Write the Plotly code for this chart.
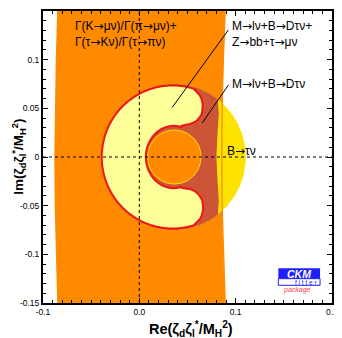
import numpy as np
import plotly.graph_objects as go

# ---------------- data ----------------
# Γ(K→μν)/Γ(π→μν)+Γ(τ→Kν)/Γ(τ→πν) band (orange)
band_y = [-0.16, -0.10, -0.05, 0.0, 0.05, 0.10, 0.16]
band_left_x = [-0.0850, -0.0868, -0.0879, -0.0883, -0.0879, -0.0868, -0.0850]
band_right_x = [0.0895, 0.0872, 0.0859, 0.0855, 0.0859, 0.0872, 0.0895]

# B→τν annulus (yellow)
btau_center = [0.0355, 0.0]
btau_r_outer = 0.075
btau_inner_center = [0.0363, 0.0]
btau_r_inner = 0.0278

# M→lν+B→Dτν (brown): right-hand edge
brown_edge_y = [-0.0585, -0.045, -0.025, 0.0, 0.025, 0.045, 0.0585]
brown_edge_x = [0.0815, 0.0825, 0.0812, 0.0800, 0.0812, 0.0825, 0.0815]

# M→lν+B→Dτν+Z→bb+τ→μν (pale yellow, red outline)
comb_outer_center = [0.0345, 0.0]
comb_outer_r = 0.0735
comb_inner_center = [0.0358, 0.0]
comb_inner_rx = 0.029
comb_inner_ry = 0.032
top_lobe_x = [0.0561, 0.0630, 0.0657, 0.0647, 0.0595, 0.0526, 0.0439]
top_lobe_y = [0.0703, 0.0629, 0.0544, 0.0441, 0.0373, 0.0339, 0.0321]
bot_lobe_x = [0.0565, 0.0635, 0.0662, 0.0650, 0.0600, 0.0535, 0.0440]
bot_lobe_y = [-0.0700, -0.0630, -0.0540, -0.0440, -0.0370, -0.0333, -0.0315]

# axis ticks
x_tickvals = [-0.1, 0.0, 0.1, 0.2]
x_ticktext = ["-0.1", "0.0", "0.1", "0.2"]
y_tickvals = [0.15, 0.1, 0.05, 0.0, -0.05, -0.1, -0.15]
y_ticktext = ["0.15", "0.1", "0.05", "0", "-0.05", "-0.1", "-0.15"]

# labels
label_texts = ["Γ(K→μν)/Γ(π→μν)+<br>Γ(τ→Kν)/Γ(τ→πν)",
               "M→lν+B→Dτν+<br>Z→bb+τ→μν",
               "M→lν+B→Dτν",
               "B→τν"]
label_x = [-0.0690, 0.0945, 0.0945, 0.0890]
label_y = [0.1260, 0.1260, 0.0745, 0.0065]
leader1_x = [0.0924, 0.0343]
leader1_y = [0.1305, 0.0512]
leader2_x = [0.0924, 0.0654]
leader2_y = [0.0739, 0.0351]

# ---------------- colours ----------------
ORANGE = "#FF8A00"
YELLOW = "#FFE300"
BROWN = "#CC5537"
PALE = "#FFFF99"
RED = "#F01414"
FONT = "Liberation Sans, Arial, sans-serif"
ARROW = '<span style="font-family:DejaVu Sans">→</span>'


def arc(cx, cy, rx, ry, t0, t1, n=200):
    t = np.linspace(t0, t1, n)
    return cx + rx * np.cos(t), cy + ry * np.sin(t)


fig = go.Figure()

# 1. orange band
bx = list(band_left_x) + list(band_right_x[::-1])
by = list(band_y) + list(band_y[::-1])
fig.add_trace(go.Scatter(x=bx, y=by, fill="toself", fillcolor=ORANGE,
                         mode="lines", line=dict(width=0, color=ORANGE)))

# 2. B→τν outer disk
ox, oy = arc(btau_center[0], btau_center[1], btau_r_outer, btau_r_outer, 0, 2 * np.pi, 300)
fig.add_trace(go.Scatter(x=ox, y=oy, fill="toself", fillcolor=YELLOW,
                         mode="lines", line=dict(width=0, color=YELLOW)))

# 3. brown region: outer circle arc + right edge
a_top = np.arctan2(brown_edge_y[-1] - btau_center[1], brown_edge_x[-1] - btau_center[0])
a_bot = 2 * np.pi - a_top
ax_, ay_ = arc(btau_center[0], btau_center[1], btau_r_outer, btau_r_outer, a_top, a_bot, 300)
brx = list(ax_) + list(brown_edge_x)
bry = list(ay_) + list(brown_edge_y)
fig.add_trace(go.Scatter(x=brx, y=bry, fill="toself", fillcolor=BROWN,
                         mode="lines", line=dict(width=0, color=BROWN)))

# 4. inner hole of B→τν (orange)
ix, iy = arc(btau_inner_center[0], btau_inner_center[1], btau_r_inner, btau_r_inner, 0, 2 * np.pi, 200)
fig.add_trace(go.Scatter(x=ix, y=iy, fill="toself", fillcolor=ORANGE,
                         mode="lines", line=dict(width=1, color=YELLOW)))

# 5. pale combined region
c0 = np.arctan2(top_lobe_y[0] - comb_outer_center[1], top_lobe_x[0] - comb_outer_center[0])
c1 = 2 * np.pi + np.arctan2(bot_lobe_y[0] - comb_outer_center[1], bot_lobe_x[0] - comb_outer_center[0])
px1, py1 = arc(comb_outer_center[0], comb_outer_center[1], comb_outer_r, comb_outer_r, c0, c1, 300)
e0 = 2 * np.pi + np.arctan2((bot_lobe_y[-1] - comb_inner_center[1]) / comb_inner_ry,
                            (bot_lobe_x[-1] - comb_inner_center[0]) / comb_inner_rx)
e1 = np.arctan2((top_lobe_y[-1] - comb_inner_center[1]) / comb_inner_ry,
                (top_lobe_x[-1] - comb_inner_center[0]) / comb_inner_rx)
px2, py2 = arc(comb_inner_center[0], comb_inner_center[1], comb_inner_rx, comb_inner_ry, e0, e1, 200)
plx = list(px1) + list(bot_lobe_x) + list(px2) + list(top_lobe_x[::-1])
ply = list(py1) + list(bot_lobe_y) + list(py2) + list(top_lobe_y[::-1])
fig.add_trace(go.Scatter(x=plx, y=ply, fill="toself", fillcolor=PALE,
                         mode="lines", line=dict(width=2, color=RED, shape="spline", smoothing=0.5)))

# 6. right edge line of the band drawn on top
fig.add_trace(go.Scatter(x=band_right_x, y=band_y, mode="lines",
                         line=dict(width=1.3, color=ORANGE)))

# 7. leader lines
fig.add_trace(go.Scatter(x=leader1_x, y=leader1_y, mode="lines", line=dict(width=1, color="black")))
fig.add_trace(go.Scatter(x=leader2_x, y=leader2_y, mode="lines", line=dict(width=1, color="black")))

for t, x, y in zip(label_texts, label_x, label_y):
    fig.add_annotation(x=x, y=y, text=t.replace("→", ARROW), showarrow=False,
                       xanchor="left", yanchor="middle", align="left",
                       font=dict(family=FONT, size=12, color="black"))

# zero lines (dotted, above)
fig.add_shape(type="line", x0=0, x1=0, y0=-0.15, y1=0.15, xref="x", yref="y", layer="above",
              line=dict(color="black", width=1, dash="dot"))
fig.add_shape(type="line", x0=-0.1, x1=0.2, y0=0, y1=0, xref="x", yref="y", layer="above",
              line=dict(color="black", width=1, dash="dot"))

# CKMfitter logo
fig.add_shape(type="rect", x0=0.1443, x1=0.1876, y0=-0.1250, y1=-0.1144, xref="x", yref="y",
              fillcolor="#1E1EFF", line=dict(width=0), layer="above")
fig.add_shape(type="rect", x0=0.1443, x1=0.1876, y0=-0.1318, y1=-0.1250, xref="x", yref="y",
              fillcolor="white", line=dict(width=1, color="#1E1EFF"), layer="above")
fig.add_annotation(x=0.1660, y=-0.1197, text="<b><i>CKM</i></b>", showarrow=False,
                   font=dict(family=FONT, size=10.5, color="white"))
fig.add_annotation(x=0.1740, y=-0.1287, text="f i t t e r", showarrow=False,
                   font=dict(family=FONT, size=6.5, color="#1E1EFF"))
fig.add_annotation(x=0.1640, y=-0.1370, text="<i>package</i>", showarrow=False,
                   font=dict(family=FONT, size=7, color="#FF4050"))

# axis titles
fig.add_annotation(xref="paper", yref="paper", x=0.512, y=-0.090, yanchor="middle",
                   text="<b>Re(ζ<sub>d</sub>ζ<sub>l</sub><sup>*</sup>/M<sub>H</sub><sup>2</sup>)</b>",
                   showarrow=False, font=dict(family=FONT, size=14.5, color="black"))
fig.add_annotation(xref="paper", yref="paper", x=-0.084, y=0.5, xanchor="center", textangle=-90,
                   text="<b>Im(ζ<sub>d</sub>ζ<sub>l</sub><sup>*</sup>/M<sub>H</sub><sup>2</sup>)</b>",
                   showarrow=False, font=dict(family=FONT, size=13.5, color="black"))

axis_common = dict(showgrid=False, zeroline=False, showline=True, linewidth=2, linecolor="black",
                   mirror="allticks", ticks="inside", ticklen=5, tickwidth=1, tickcolor="black",
                   automargin=False,
                   tickfont=dict(family=FONT, size=8.5, color="black"))

fig.update_xaxes(range=[-0.1, 0.2], tickvals=x_tickvals, ticktext=x_ticktext,
                 minor=dict(dtick=0.01, tick0=0, ticks="inside", ticklen=3, tickcolor="black"),
                 **axis_common)
fig.update_yaxes(range=[-0.15, 0.15], tickvals=y_tickvals, ticktext=y_ticktext,
                 minor=dict(dtick=0.01, tick0=0, ticks="inside", ticklen=3, tickcolor="black"),
                 **axis_common)

# the page adds an 8px body margin, so the figure is 8px smaller and margins compensate
fig.update_layout(width=334, height=330, margin=dict(l=35, r=10, t=3, b=35),
                  paper_bgcolor="white", plot_bgcolor="white", showlegend=False,
                  hovermode=False)

fig.write_html("out.html")
